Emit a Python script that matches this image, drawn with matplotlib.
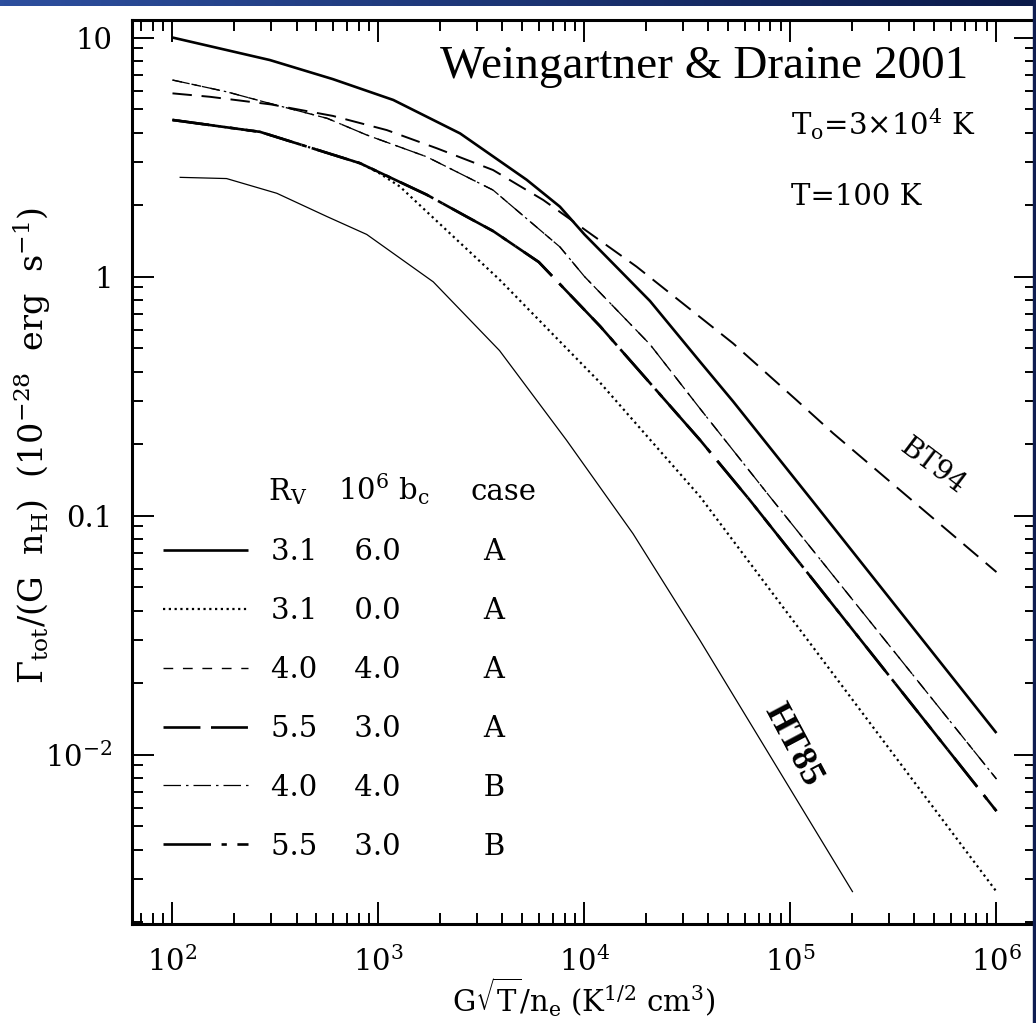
import numpy as np
import matplotlib
matplotlib.use("Agg")
import matplotlib.pyplot as plt
from matplotlib.patches import Rectangle

# --- data (x = G sqrt(T)/n_e, y = Gamma/(G n_H) in 1e-28 erg/s) ---
x_s31_60 = [100, 297, 600, 1180, 2490, 5240, 7600, 10000, 20800, 36400, 52700, 128000, 1e6]
y_s31_60 = [10.0, 8.05, 6.7, 5.48, 3.97, 2.54, 1.96, 1.50, 0.79, 0.44, 0.30, 0.115, 0.0123]

x_d31_00 = [100, 266, 813, 1000, 1270, 2000, 3870, 11900, 36400, 1e6]
y_d31_00 = [4.52, 4.03, 2.98, 2.72, 2.38, 1.65, 0.97, 0.36, 0.12, 0.00267]

x_40 = [100, 183, 297, 564, 877, 1714, 3600, 7600, 10000, 20800, 36400, 79400, 1e6]
y_40A = [6.64, 5.93, 5.30, 4.59, 3.91, 3.17, 2.30, 1.33, 1.00, 0.52, 0.28, 0.12, 0.0079]
y_40B = [6.64, 5.93, 5.30, 4.59, 3.91, 3.17, 2.30, 1.33, 1.00, 0.52, 0.28, 0.12, 0.0079]

x_55 = [100, 266, 813, 1714, 2680, 3600, 6000, 11900, 36400, 63500, 1e6]
y_55A = [4.52, 4.03, 2.98, 2.20, 1.78, 1.55, 1.15, 0.62, 0.207, 0.116, 0.0058]
y_55B = [4.52, 4.03, 2.98, 2.20, 1.78, 1.55, 1.15, 0.62, 0.207, 0.116, 0.0058]

x_bt94 = [100, 152, 300, 600, 1097, 1920, 3600, 6310, 17900, 52700, 107000, 161000, 1e6]
y_bt94 = [5.84, 5.65, 5.25, 4.70, 4.10, 3.44, 2.79, 2.09, 1.10, 0.525, 0.304, 0.221, 0.058]

x_ht85 = [109, 183, 321, 564, 877, 1845, 3870, 8170, 17200, 36400, 200000]
y_ht85 = [2.60, 2.57, 2.23, 1.78, 1.50, 0.95, 0.49, 0.207, 0.084, 0.030, 0.00267]

rv_vals = ["3.1", "3.1", "4.0", "5.5", "4.0", "5.5"]
bc_vals = ["6.0", "0.0", "4.0", "3.0", "4.0", "3.0"]
case_vals = ["A", "A", "A", "A", "B", "B"]

plt.rcParams["font.family"] = "DejaVu Serif"
plt.rcParams["mathtext.fontset"] = "dejavuserif"

W, H = 1036, 1023
fig = plt.figure(figsize=(W/100, H/100), dpi=100)
L, R, T, B = 132, 1036, 20, 924
ax = fig.add_axes([L/W, 1-B/H, (R-L)/W, (B-T)/H])

k = "black"
l1, = ax.plot(x_s31_60, y_s31_60, color=k, lw=1.9, solid_capstyle="butt")
l2, = ax.plot(x_d31_00, y_d31_00, color=k, lw=1.6, dashes=(1.0, 1.6))
l3, = ax.plot(x_40, y_40A, color=k, lw=1.0, dashes=(7, 7))
l4, = ax.plot(x_55, y_55A, color=k, lw=1.9, dashes=(14, 4))
l5, = ax.plot(x_40, y_40B, color=k, lw=0.9, dashes=(14, 4, 2, 4))
l6, = ax.plot(x_55, y_55B, color=k, lw=1.9, dashes=(18, 4, 2, 4))
ax.plot(x_bt94, y_bt94, color=k, lw=1.4, dashes=(10, 5))
ax.plot(x_ht85, y_ht85, color=k, lw=0.9)

ax.set_xscale("log"); ax.set_yscale("log")
ax.set_xlim(63.6, 1.556e6)
ax.set_ylim(1.954e-3, 11.84)

ax.set_xticks([1e2, 1e3, 1e4, 1e5, 1e6])
ax.set_xticklabels([r"$10^2$", r"$10^3$", r"$10^4$", r"$10^5$", r"$10^6$"])
ax.set_yticks([1e-2, 0.1, 1, 10])
ax.set_yticklabels([r"$10^{-2}$", "0.1", "1", "10"])
ax.tick_params(which="both", direction="in", top=True, right=True, width=1.4, labelsize=21)
ax.tick_params(which="major", length=15.5)
ax.tick_params(which="minor", length=7.8)
ax.tick_params(axis="y", pad=14)
ax.tick_params(axis="x", pad=16)
for s in ax.spines.values():
    s.set_linewidth(2.2)

ax.set_xlabel(r"G$\sqrt{\mathrm{T}}$/n$_\mathrm{e}$ (K$^{1/2}$ cm$^3$)", fontsize=21, va="center")
ax.xaxis.set_label_coords(0.5, -(997 - B)/(B - T))
ax.set_ylabel(r"$\Gamma_\mathrm{tot}$/(G  n$_\mathrm{H}$)  (10$^{-28}$  erg  s$^{-1}$)",
              fontsize=24, va="center")
ax.yaxis.set_label_coords(-(L - 32)/(R - L), 1-(445 - T)/(B - T))

# legend table
labels = [f"{r}    {b}         {c}" for r, b, c in zip(rv_vals, bc_vals, case_vals)]
ax.legend([l1, l2, l3, l4, l5, l6], labels, loc="upper left",
          bbox_to_anchor=(0.0343, 1-(538-T)/(B-T)), frameon=False, fontsize=21,
          borderpad=0, borderaxespad=0, handlelength=2.9, handletextpad=0.8,
          labelspacing=1.06)
hy = 1 - (500 - T)/(B - T)
ax.text((268-L)/(R-L), hy, r"R$_\mathrm{V}$", transform=ax.transAxes, fontsize=21, va="baseline")
ax.text((338-L)/(R-L), hy, r"10$^6$ b$_\mathrm{c}$", transform=ax.transAxes, fontsize=21, va="baseline")
ax.text((470-L)/(R-L), hy, "case", transform=ax.transAxes, fontsize=21, va="baseline")

ax.text((440-L)/(R-L), 1-(78-T)/(B-T), "Weingartner & Draine 2001", transform=ax.transAxes,
        fontsize=34, family="Liberation Serif", va="baseline")
ax.text((791-L)/(R-L), 1-(135-T)/(B-T), r"T$_\mathrm{o}$=3$\times$10$^4$ K", transform=ax.transAxes,
        fontsize=21, va="baseline")
ax.text((791-L)/(R-L), 1-(205-T)/(B-T), "T=100 K", transform=ax.transAxes,
        fontsize=21, va="baseline")

ax.text((933-L)/(R-L), 1-(466-T)/(B-T), "BT94", transform=ax.transAxes, fontsize=20,
        rotation=-37, ha="center", va="center", rotation_mode="anchor")
ax.text((793-L)/(R-L), 1-(745-T)/(B-T), "HT85", transform=ax.transAxes, fontsize=26,
        family="Liberation Serif", weight="bold", rotation=-62, ha="center", va="center",
        rotation_mode="anchor")

# slide frame: blue band on top, navy strip on the right
band = fig.add_axes([0, 1-6/H, 1, 6/H])
band.imshow(np.linspace(0, 1, 256)[None, :], aspect="auto",
            cmap=matplotlib.colors.LinearSegmentedColormap.from_list("b", ["#2d4f9e", "#0b1a4a"]))
band.axis("off")
fig.patches.append(Rectangle((1-3/W, 0), 3/W, 1, transform=fig.transFigure, color="#0f1e52", zorder=10))

fig.savefig("out.png", dpi=100)
